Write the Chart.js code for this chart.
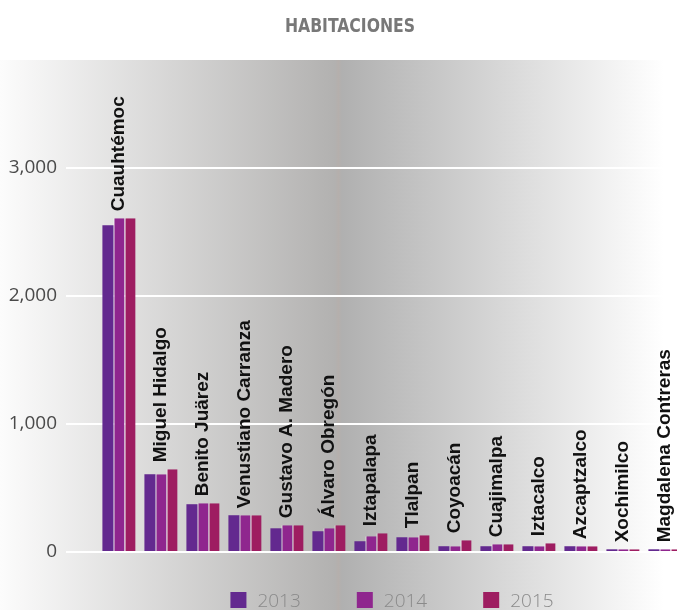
<!DOCTYPE html>
<html>
<head>
<meta charset="utf-8">
<title>Habitaciones</title>
<script src="https://cdn.jsdelivr.net/npm/chart.js@4.4.0/dist/chart.umd.min.js"></script>
<style>
    html, body { margin: 0; padding: 0; background: #fff; overflow: hidden; }
    #wrap { width: 677px; height: 610px; overflow: hidden; position: relative; }
    canvas { display: block; }
</style>
</head>
<body>
<div id="wrap">
    <canvas id="habChart" width="686" height="610" style="width:686px;height:610px"></canvas>
</div>
<script>
// rooms per delegación
const delegaciones = [
    'Cuauhtémoc', 'Miguel Hidalgo', 'Benito Juärez', 'Venustiano Carranza',
    'Gustavo A. Madero', 'Álvaro Obregón', 'Iztapalapa', 'Tlalpan',
    'Coyoacán', 'Cuajimalpa', 'Iztacalco', 'Azcaptzalco', 'Xochimilco',
    'Magdalena Contreras'
];
const years = ['2013', '2014', '2015'];
const hab2013 = [2550, 607, 373, 287, 185, 162, 84, 115, 45, 45, 45, 45, 21, 21];
const hab2014 = [2605, 607, 380, 287, 209, 185, 123, 115, 45, 60, 45, 45, 21, 21];
const hab2015 = [2605, 646, 380, 287, 209, 209, 146, 131, 91, 60, 68, 45, 21, 21];
const yTicks = [0, 1000, 2000, 3000];

const colors = ['#63298f', '#8f268e', '#9e1d61'];
const chartTitle = 'HABITACIONES';

// grey band behind the plot + title
const backdrop = {
    id: 'backdrop',
    beforeDraw(chart) {
        const { ctx, width, height } = chart;
        ctx.save();
        ctx.fillStyle = '#fff';
        ctx.fillRect(0, 0, width, height);
        const g = ctx.createLinearGradient(0, 0, 677, 0);
        g.addColorStop(0, '#fcfcfc');
        g.addColorStop(0.495, '#b2b1b0');
        g.addColorStop(0.5, '#b5afac');
        g.addColorStop(0.505, '#b0b0b0');
        g.addColorStop(0.98, '#ffffff');
        ctx.fillStyle = g;
        ctx.fillRect(0, 60, width, height - 60);

        // narrow title: condensed face squeezed a little more
        ctx.fillStyle = '#787878';
        ctx.font = 'bold 20px "DejaVu Sans Condensed", sans-serif';
        ctx.textAlign = 'center';
        ctx.textBaseline = 'alphabetic';
        ctx.translate(350, 31.5);
        ctx.scale(0.87, 1);
        ctx.fillText(chartTitle, 0, 0);
        ctx.restore();
    }
};

// names written upright above each group of bars
const groupNames = {
    id: 'groupNames',
    afterDatasetsDraw(chart) {
        const { ctx } = chart;
        const xScale = chart.scales.x;
        ctx.save();
        ctx.fillStyle = '#111';
        ctx.font = 'bold 19px "Liberation Sans", Arial, sans-serif';
        ctx.textAlign = 'left';
        ctx.textBaseline = 'middle';
        chart.data.labels.forEach((name, i) => {
            let top = Infinity;
            chart.data.datasets.forEach((ds, d) => {
                const bar = chart.getDatasetMeta(d).data[i];
                if (bar) top = Math.min(top, bar.y);
            });
            const x = xScale.getPixelForValue(i);
            ctx.save();
            ctx.translate(x, top - 7);
            ctx.rotate(-Math.PI / 2);
            ctx.fillText(name, 0, 0);
            ctx.restore();
        });
        ctx.restore();
    }
};

// legend row under the plot, centred on the chart area
const bottomLegend = {
    id: 'bottomLegend',
    afterDraw(chart) {
        const { ctx, chartArea } = chart;
        const box = 16, textGap = 11, itemGap = 56;
        ctx.save();
        ctx.font = '300 19px "Open Sans", sans-serif';
        const items = chart.data.datasets.map(ds => ({
            text: ds.label,
            color: ds.backgroundColor,
            w: box + textGap + ctx.measureText(ds.label).width
        }));
        const total = items.reduce((s, it) => s + it.w, 0) + itemGap * (items.length - 1);
        let x = (chartArea.left + chartArea.right) / 2 - total / 2;
        items.forEach(it => {
            ctx.fillStyle = it.color;
            ctx.fillRect(x, 592, box, box);
            ctx.fillStyle = '#8a8a8a';
            ctx.textBaseline = 'alphabetic';
            ctx.fillText(it.text, x + box + textGap, 607);
            x += it.w + itemGap;
        });
        ctx.restore();
    }
};

const ctx = document.getElementById('habChart').getContext('2d');

new Chart(ctx, {
    type: 'bar',
    data: {
        labels: delegaciones,
        datasets: [
            { label: years[0], data: hab2013, backgroundColor: colors[0], borderWidth: 0 },
            { label: years[1], data: hab2014, backgroundColor: colors[1], borderColor: '#fff', borderWidth: { left: 1, right: 0, top: 0, bottom: 0 } },
            { label: years[2], data: hab2015, backgroundColor: colors[2], borderColor: '#fff', borderWidth: { left: 1, right: 0, top: 0, bottom: 0 } }
        ]
    },
    options: {
        responsive: false,
        animation: false,
        devicePixelRatio: 1,
        layout: { padding: { top: 78, bottom: 58, left: 0, right: 0 } },
        datasets: {
            bar: { categoryPercentage: 0.79, barPercentage: 1 }
        },
        plugins: {
            legend: { display: false },
            title: { display: false },
            tooltip: { enabled: false }
        },
        scales: {
            x: { display: false },
            y: {
                min: 0,
                max: 3700,
                afterFit(scale) { scale.width = 98; },
                afterBuildTicks(scale) { scale.ticks = yTicks.map(v => ({ value: v })); },
                border: { display: false },
                grid: { color: '#fff', lineWidth: 2, drawTicks: true, tickLength: 32 },
                ticks: {
                    padding: 9,
                    color: '#4a4a4a',
                    font: { family: '"Open Sans", sans-serif', size: 19, weight: '400' },
                    callback: v => v.toLocaleString('en-US')
                }
            }
        }
    },
    plugins: [backdrop, groupNames, bottomLegend]
});
</script>
</body>
</html>
